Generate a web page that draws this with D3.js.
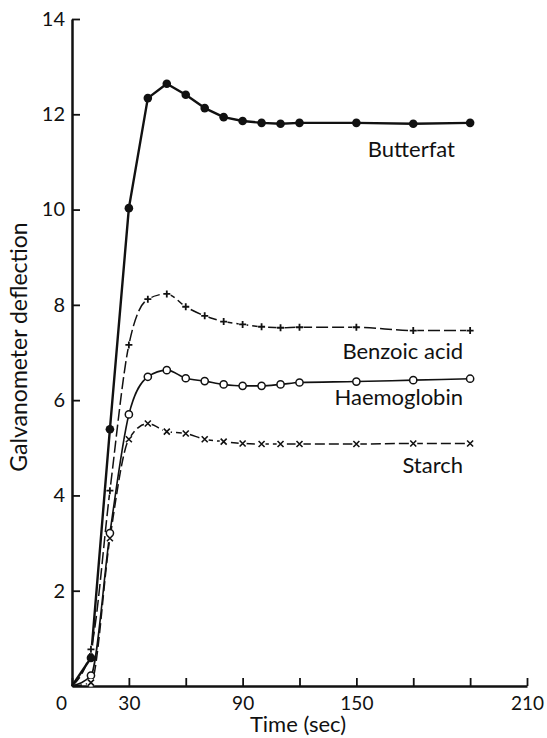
<!DOCTYPE html>
<html>
<head>
<meta charset="utf-8">
<script src="https://cdn.jsdelivr.net/npm/d3@7"></script>
<style>
  html, body { margin: 0; padding: 0; background: #fff; }
  svg { display: block; }
  text { font-family: Lato, "Open Sans", sans-serif; fill: #111; }
</style>
</head>
<body>
<svg id="chart" width="547" height="738"></svg>
<script>
// ---- data ----
const times = [0, 10, 20, 30, 40, 50, 60, 70, 80, 90, 100, 110, 120, 150, 180, 210];
const butterfat   = [0, 0.59, 5.39, 10.03, 12.34, 12.64, 12.41, 12.13, 11.94, 11.86, 11.82, 11.80, 11.82, 11.82, 11.80, 11.82];
const benzoicAcid = [0, 0.77, 4.10, 7.16, 8.12, 8.23, 7.96, 7.77, 7.65, 7.59, 7.54, 7.52, 7.53, 7.53, 7.46, 7.46];
const haemoglobin = [0, 0.22, 3.21, 5.70, 6.49, 6.63, 6.46, 6.40, 6.33, 6.30, 6.30, 6.33, 6.37, 6.39, 6.42, 6.45];
const starch      = [0, 0.07, 3.10, 5.18, 5.51, 5.34, 5.30, 5.18, 5.13, 5.09, 5.08, 5.08, 5.08, 5.08, 5.09, 5.09];
const seriesNames = ["Butterfat", "Benzoic acid", "Haemoglobin", "Starch"];
const xTickValues = [0, 30, 60, 90, 120, 150, 180, 210, 240];
const xTickLabels = ["0", "30", "", "90", "", "150", "", "", "210"];
const yTickValues = [2, 4, 6, 8, 10, 12, 14];
const yTickLabels = ["2", "4", "6", "8", "10", "12", "14"];

const svg = d3.select("#chart");
const x = d3.scaleLinear().domain([0, 240]).range([72, 527]);
const y = d3.scaleLinear().domain([0, 14]).range([686, 19]);

// axes
const gx = svg.append("g").attr("transform", `translate(0,${y(0)})`)
  .call(d3.axisBottom(x).tickValues(xTickValues)
    .tickFormat((d, i) => xTickLabels[i]).tickSize(-8).tickSizeOuter(0).tickPadding(11));
const gy = svg.append("g").attr("transform", `translate(${x(0)},0)`)
  .call(d3.axisLeft(y).tickValues(yTickValues)
    .tickFormat((d, i) => yTickLabels[i]).tickSize(-8).tickSizeOuter(0).tickPadding(7));
[gx, gy].forEach(g => {
  g.select(".domain").attr("stroke", "#111").attr("stroke-width", 2.5);
  g.selectAll(".tick line").attr("stroke", "#111").attr("stroke-width", 1.8);
  g.selectAll(".tick text").attr("font-size", 20).attr("fill", "#111")
    .style("font-family", "Lato, sans-serif");
});
gx.selectAll(".tick text").attr("font-size", 19).filter((d) => d === 0).attr("dx", -11);

svg.append("text").attr("x", 298).attr("y", 732).attr("text-anchor", "middle")
  .attr("font-size", 22).text("Time (sec)");
svg.append("text").attr("transform", "translate(27,347) rotate(-90)")
  .attr("text-anchor", "middle").attr("font-size", 23).text("Galvanometer deflection");

const series = [
  { name: seriesNames[0], values: butterfat,   marker: "dot",    width: 2.4, dash: null,   curve: d3.curveLinear,    lx: 455, ly: 157 },
  { name: seriesNames[1], values: benzoicAcid, marker: "plus",   width: 1.5, dash: "12,4", curve: d3.curveMonotoneX, lx: 463, ly: 359 },
  { name: seriesNames[2], values: haemoglobin, marker: "circle", width: 1.6, dash: null,   curve: d3.curveMonotoneX, lx: 463, ly: 405 },
  { name: seriesNames[3], values: starch,      marker: "cross",  width: 1.5, dash: "10,4", curve: d3.curveMonotoneX, lx: 463, ly: 473 }
];

series.forEach(s => {
  const pts = times.map((t, i) => [t, s.values[i]]);
  const line = d3.line().x((d) => x(d[0])).y((d) => y(d[1])).curve(s.curve);
  svg.append("path").datum(pts).attr("d", line).attr("fill", "none")
    .attr("stroke", "#111").attr("stroke-width", s.width)
    .attr("stroke-linejoin", "round")
    .attr("stroke-dasharray", s.dash);
});

series.forEach(s => {
  const pts = times.map((t, i) => [t, s.values[i]]).filter(d => d[0] > 0);
  const g = svg.append("g");
  pts.forEach(p => {
    const cx = x(p[0]), cy = y(p[1]);
    if (s.marker === "dot") {
      g.append("circle").attr("cx", cx).attr("cy", cy).attr("r", 4.3).attr("fill", "#111");
    } else if (s.marker === "circle") {
      g.append("circle").attr("cx", cx).attr("cy", cy).attr("r", 3.6)
        .attr("fill", "#fff").attr("stroke", "#111").attr("stroke-width", 1.5);
    } else if (s.marker === "plus") {
      g.append("circle").attr("cx", cx).attr("cy", cy).attr("r", 4).attr("fill", "#fff");
      g.append("path").attr("d", `M${cx - 3.5},${cy}H${cx + 3.5}M${cx},${cy - 3.5}V${cy + 3.5}`)
        .attr("stroke", "#111").attr("stroke-width", 1.8);
    } else {
      g.append("circle").attr("cx", cx).attr("cy", cy).attr("r", 4).attr("fill", "#fff");
      g.append("path").attr("d", `M${cx - 3},${cy - 3}L${cx + 3},${cy + 3}M${cx - 3},${cy + 3}L${cx + 3},${cy - 3}`)
        .attr("stroke", "#111").attr("stroke-width", 1.6);
    }
  });
  svg.append("text").attr("x", s.lx).attr("y", s.ly).attr("text-anchor", "end")
    .attr("font-size", 22).text(s.name);
});
</script>
</body>
</html>
